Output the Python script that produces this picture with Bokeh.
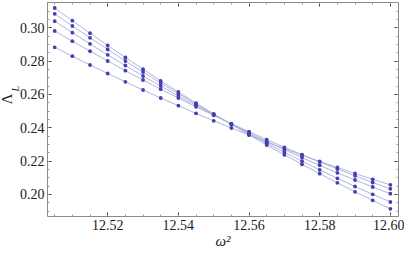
from bokeh.plotting import figure
from bokeh.models import (LinearAxis, SingleIntervalTicker, PrintfTickFormatter, Range1d, Title,
                          CustomJSTickFormatter)
from bokeh.embed import file_html
from bokeh.resources import INLINE

omega2 = [12.505, 12.510, 12.515, 12.520, 12.525, 12.530, 12.535, 12.540, 12.545, 12.550,
          12.555, 12.560, 12.565, 12.570, 12.575, 12.580, 12.585, 12.590, 12.595, 12.600]

series_a = [0.3118, 0.3042, 0.2967, 0.2893, 0.2821, 0.2751, 0.2681, 0.2614, 0.2547, 0.2482,
            0.2419, 0.2357, 0.2296, 0.2237, 0.2180, 0.2124, 0.2069, 0.2015, 0.1964, 0.1913]
series_b = [0.3083, 0.3010, 0.2939, 0.2869, 0.2800, 0.2734, 0.2668, 0.2604, 0.2542, 0.2481,
            0.2422, 0.2364, 0.2307, 0.2252, 0.2199, 0.2147, 0.2096, 0.2047, 0.2000, 0.1954]
series_c = [0.3039, 0.2970, 0.2903, 0.2837, 0.2773, 0.2710, 0.2650, 0.2590, 0.2533, 0.2477,
            0.2422, 0.2369, 0.2318, 0.2268, 0.2220, 0.2174, 0.2129, 0.2086, 0.2044, 0.2004]
series_d = [0.2980, 0.2919, 0.2859, 0.2800, 0.2742, 0.2686, 0.2631, 0.2578, 0.2525, 0.2474,
            0.2424, 0.2376, 0.2328, 0.2282, 0.2238, 0.2194, 0.2152, 0.2111, 0.2071, 0.2033]
series_e = [0.2882, 0.2829, 0.2776, 0.2725, 0.2675, 0.2626, 0.2578, 0.2532, 0.2486, 0.2441,
            0.2398, 0.2356, 0.2314, 0.2274, 0.2235, 0.2197, 0.2161, 0.2125, 0.2090, 0.2057]

all_series = [series_a, series_b, series_c, series_d, series_e]

line_color = "#a9a9dc"
point_color = "#4040ae"
axis_color = "#8a8a8a"
serif = "Liberation Serif"

x0, x1 = 12.50296, 12.6023
y0, y1 = 0.1867, 0.3151

p = figure(width=404, height=251, output_backend="svg", toolbar_location=None,
           x_range=Range1d(x0, x1), y_range=Range1d(y0, y1),
           min_border_left=0, min_border_right=6, min_border_top=2, min_border_bottom=30,
           x_axis_location=None, y_axis_location=None)
p.outline_line_color = None
p.xgrid.visible = False
p.ygrid.visible = False
p.background_fill_color = "white"
p.border_fill_color = "white"

for ys in all_series:
    p.line(omega2, ys, line_color=line_color, line_width=0.9)
for ys in all_series:
    p.scatter(omega2, ys, size=3.8, fill_color=point_color, line_color=point_color, line_width=0)


def make_axis(show_labels, label=None):
    ax = LinearAxis(ticker=SingleIntervalTicker(interval=0.02, num_minor_ticks=4))
    ax.axis_line_color = axis_color
    ax.axis_line_width = 1
    ax.major_tick_in = 4
    ax.major_tick_out = 0
    ax.minor_tick_in = 2
    ax.minor_tick_out = 0
    ax.major_tick_line_color = "#333333"
    ax.minor_tick_line_color = "#999999"
    if show_labels:
        ax.formatter = PrintfTickFormatter(format="%.2f")
        ax.major_label_text_font = serif
        ax.major_label_text_font_size = "14px"
        ax.major_label_text_color = "#1a1a1a"
        ax.major_label_standoff = 3
    else:
        ax.formatter = CustomJSTickFormatter(code="return ''")
        ax.major_label_standoff = 0
    if label:
        ax.axis_label = label
        ax.axis_label_text_font = serif
        ax.axis_label_text_font_size = "15px"
        ax.axis_label_text_font_style = "italic"
        ax.axis_label_text_color = "#1a1a1a"
        ax.axis_label_standoff = 0
    return ax


p.add_layout(make_axis(True, "ω²"), "below")
p.add_layout(make_axis(True), "left")
p.add_layout(make_axis(False), "above")
p.add_layout(make_axis(False), "right")

# y-axis label: Λ with italic subscript L (two stacked titles on the left)
p.add_layout(Title(text="L", align="left", offset=125, standoff=-8, text_font=serif,
                   text_font_size="10px", text_font_style="italic", text_color="#1a1a1a"), "left")
p.add_layout(Title(text="Λ", align="left", offset=112, standoff=-7, text_font=serif,
                   text_font_size="15px", text_font_style="normal", text_color="#1a1a1a"), "left")

open("out.html", "w").write(file_html(p, INLINE))
